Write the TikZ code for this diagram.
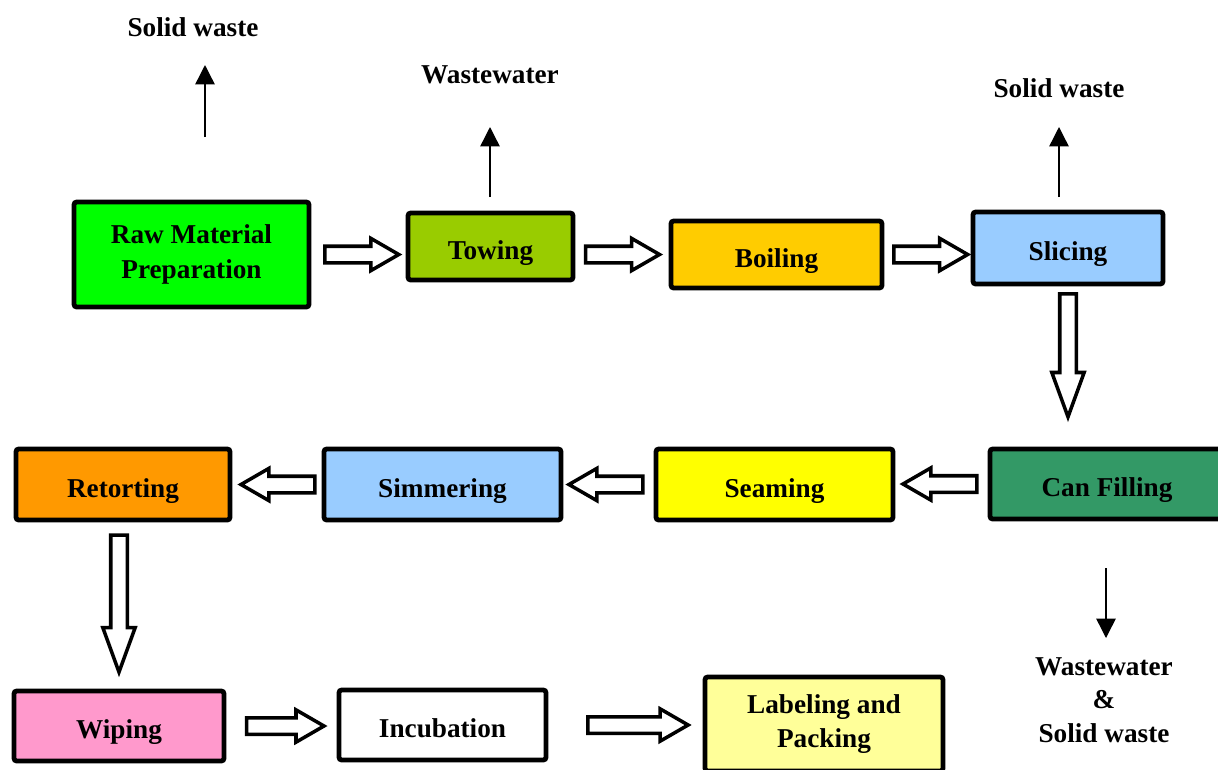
\documentclass[tikz,border=0pt]{standalone}
\usepackage{fontspec}
\setmainfont{Liberation Serif}
\usetikzlibrary{shapes.arrows,arrows.meta}
\newcommand{\px}{0.02cm}

\begin{document}
\begin{tikzpicture}[x=\px, y=-\px,
    onebox/.style={draw, rectangle, line width=2.7pt, rounded corners=1.5pt, inner sep=0pt, text height=14.5pt, text depth=0pt, font=\bfseries\fontsize{15.5}{19.5}\selectfont},
    box/.style={draw, rectangle, line width=2.7pt, rounded corners=1.5pt, inner sep=0pt, align=center, font=\bfseries\fontsize{15.5}{19.5}\selectfont},
    waste/.style={align=center, font=\bfseries\fontsize{15.5}{19}\selectfont},
    harrow/.style={single arrow, draw, fill=white, line width=2pt, inner xsep=0pt, inner ysep=3.7pt, single arrow head extend=4.5pt, single arrow tip angle=60, minimum height=42pt, sloped, allow upside down},
    varrow/.style={harrow, single arrow tip angle=40},
    wastearrow/.style={-{Triangle[length=11pt, width=11pt]}, line width=0.8pt}]
    \useasboundingbox (0,0) rectangle (1218,769);
    \clip (0,0) rectangle (1218,769);

    % First row
    \node[box, fill={rgb,255:red,0;green,255;blue,0}, minimum width=235*\px, minimum height=105*\px] (raw) at (191.5,254.5) {Raw Material\\Preparation};
    \node[onebox, fill={rgb,255:red,153;green,204;blue,0}, minimum width=165*\px, minimum height=67*\px] (towing) at (490.5,246.5) {Towing};
    \node[onebox, fill={rgb,255:red,255;green,204;blue,0}, minimum width=211*\px, minimum height=67*\px] (boiling) at (776.5,254.5) {Boiling};
    \node[onebox, fill={rgb,255:red,153;green,204;blue,255}, minimum width=190*\px, minimum height=72*\px] (slicing) at (1068,248) {Slicing};

    % Second row
    \node[onebox, fill={rgb,255:red,51;green,153;blue,102}, minimum width=234*\px, minimum height=70*\px] (canfill) at (1107,484) {Can Filling};
    \node[onebox, fill={rgb,255:red,255;green,255;blue,0}, minimum width=237*\px, minimum height=71*\px] (seaming) at (774.5,484.5) {Seaming};
    \node[onebox, fill={rgb,255:red,153;green,204;blue,255}, minimum width=237*\px, minimum height=71*\px] (simmering) at (442.5,484.5) {Simmering};
    \node[onebox, fill={rgb,255:red,255;green,153;blue,0}, minimum width=214*\px, minimum height=71*\px] (retorting) at (123,484.5) {Retorting};

    % Third row
    \node[onebox, fill={rgb,255:red,255;green,153;blue,204}, minimum width=210*\px, minimum height=70*\px] (wiping) at (119,726) {Wiping};
    \node[onebox, fill=white, minimum width=207*\px, minimum height=70*\px] (incubation) at (442.5,725) {Incubation};
    \node[box, fill={rgb,255:red,255;green,255;blue,153}, minimum width=238*\px, minimum height=94*\px] (labeling) at (824,724) {Labeling and\\Packing};

    % Waste streams
    \node[waste] (solid-1) at (193,27) {Solid waste};
    \node[waste] (water-1) at (490,75) {Wastewater};
    \node[waste] (solid-2) at (1059,88) {Solid waste};
    \node[waste] (water-2) at (1104,700) {Wastewater\\\&\\Solid waste};

    \coordinate (out-1) at (205,137);
    \coordinate (out-2) at (490,197);
    \coordinate (out-3) at (1059,197);
    \coordinate (out-4) at (1106,568);
    \draw[wastearrow] (out-1) -- (205,65);
    \draw[wastearrow] (out-2) -- (490,127);
    \draw[wastearrow] (out-3) -- (1059,127);
    \draw[wastearrow] (out-4) -- (1106,638);

    % Process flow
    \path (raw.east) -- node[harrow, pos=0.46] {} (raw.east -| towing.west);
    \path (boiling.west -| towing.east) -- node[harrow, pos=0.43] {} (boiling.west);
    \path (boiling.east) -- node[harrow, pos=0.455] {} (boiling.east -| slicing.west);
    \path (slicing.south) -- node[varrow, pos=0.36, minimum height=70pt] {} (slicing.south |- canfill.north);
    \path (canfill.west) -- node[harrow, pos=0.44] {} (canfill.west -| seaming.east);
    \path (seaming.west) -- node[harrow, pos=0.45] {} (seaming.west -| simmering.east);
    \path (simmering.west) -- node[harrow, pos=0.41] {} (simmering.west -| retorting.east);
    \path (wiping.north |- retorting.south) -- node[varrow, pos=0.42, minimum height=78pt] {} (wiping.north);
    \path (wiping.east) -- node[harrow, pos=0.47, minimum height=44pt] {} (wiping.east -| incubation.west);
    \path (incubation.east) -- node[harrow, pos=0.535, minimum height=57pt] {} (incubation.east -| labeling.west);

\end{tikzpicture}
\end{document}
